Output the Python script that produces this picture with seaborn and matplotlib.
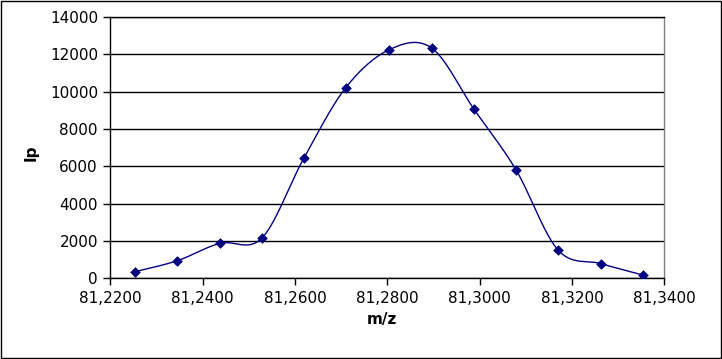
import numpy as np
import pandas as pd
import matplotlib
matplotlib.use("Agg")
import matplotlib.pyplot as plt
from matplotlib.patches import Rectangle
from matplotlib.ticker import FuncFormatter, MultipleLocator
import seaborn as sns

# values
mz = [81.2253, 81.2345, 81.2437, 81.2528, 81.2619, 81.2710, 81.2804,
      81.2896, 81.2988, 81.3079, 81.3170, 81.3263, 81.3354]
ip = [350, 940, 1870, 2150, 6430, 10220, 12250,
      12340, 9050, 5800, 1510, 780, 170]

x_ticks = [81.22, 81.24, 81.26, 81.28, 81.30, 81.32, 81.34]

df = pd.DataFrame({"mz": mz, "ip": ip})

sns.set_style("white")
plt.rcParams["font.family"] = ["DejaVu Sans"]
plt.rcParams["font.size"] = 11
plt.rcParams["text.color"] = "black"
plt.rcParams["axes.labelcolor"] = "black"
plt.rcParams["xtick.color"] = "black"
plt.rcParams["ytick.color"] = "black"

navy = "#000080"

# Excel-like smoothing: Bezier through the points in screen-scaled space
def smooth_curve(xs, ys, sx, sy, n=40):
    px = np.asarray(xs) / sx
    py = np.asarray(ys) / sy
    pts = np.column_stack([px, py])
    pts = np.vstack([pts[0], pts, pts[-1]])
    out = []
    t = np.linspace(0, 1, n)[:, None]
    for i in range(1, len(pts) - 2):
        p0, p1, p2, p3 = pts[i - 1], pts[i], pts[i + 1], pts[i + 2]
        c1 = p1 + (p2 - p0) / 6
        c2 = p2 - (p3 - p1) / 6
        seg = ((1 - t) ** 3) * p1 + 3 * ((1 - t) ** 2) * t * c1 \
            + 3 * (1 - t) * t ** 2 * c2 + t ** 3 * p2
        out.append(seg)
    curve = np.vstack(out)
    return curve[:, 0] * sx, curve[:, 1] * sy

cx, cy = smooth_curve(mz, ip, 0.12 / 554, 14000 / 261)
curve = pd.DataFrame({"mz": cx, "ip": cy})

fig = plt.figure(figsize=(7.22, 3.59), dpi=100)
ax = fig.add_axes([0.153, 0.225, 0.767, 0.7275])

sns.lineplot(data=curve, x="mz", y="ip", sort=False, color=navy, lw=1.0, ax=ax)
sns.scatterplot(data=df, x="mz", y="ip", marker="D", color=navy, s=24,
                edgecolor=navy, linewidth=0.5, ax=ax, zorder=3)

ax.set_xlim(81.22, 81.34)
ax.set_ylim(0, 14000)
ax.set_xticks(x_ticks)
ax.yaxis.set_major_locator(MultipleLocator(2000))
ax.xaxis.set_major_formatter(FuncFormatter(lambda v, p: f"{v:.4f}".replace(".", ",")))
ax.yaxis.set_major_formatter(FuncFormatter(lambda v, p: f"{v:.0f}"))

ax.grid(axis="y", color="black", lw=1)
ax.grid(axis="x", visible=False)
ax.set_axisbelow(True)
ax.tick_params(axis="both", direction="out", length=5, width=1, color="black",
               labelcolor="black", labelsize=11, pad=4)
ax.tick_params(axis="x", bottom=True)
ax.tick_params(axis="y", left=True)

for side in ["left", "bottom", "top"]:
    ax.spines[side].set_color("black")
    ax.spines[side].set_linewidth(1)
ax.spines["right"].set_color("#808080")
ax.spines["right"].set_linewidth(1)

ax.set_xlabel("m/z", fontweight="bold", fontsize=11, color="black")
ax.set_ylabel("Ip", fontweight="bold", fontsize=11, color="black")
ax.xaxis.set_label_coords(0.49, -0.13)
ax.yaxis.set_label_coords(-0.13, 0.48)

fig.add_artist(Rectangle((0.001, 0.002), 0.997, 0.996, transform=fig.transFigure,
                         fill=False, edgecolor="black", lw=1.0))

fig.savefig("out.png", dpi=100)
